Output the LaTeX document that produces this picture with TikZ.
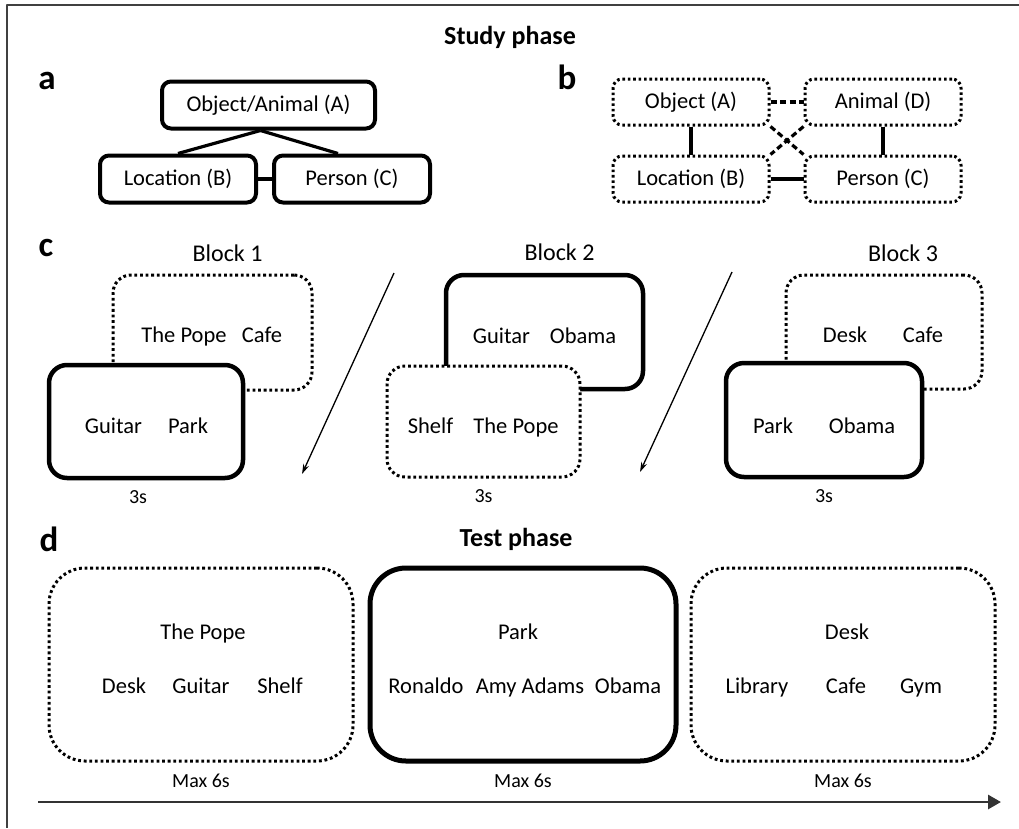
\documentclass[tikz,border=0pt]{standalone}
\usepackage{fontspec}
\setmainfont{Carlito}
\usetikzlibrary{arrows.meta,positioning}

\begin{document}
\begin{tikzpicture}[x=1pt,y=-1pt,>={Stealth[length=10pt,width=6pt]},
                    node distance=174pt,line join=round]
  \tikzstyle{every node}=[font=\fontsize{22.5}{27}\selectfont,inner sep=0pt]
  \tikzstyle{abox}=[draw,line width=4pt,rounded corners=9pt,minimum height=47pt]
  \tikzstyle{bbox}=[draw,line width=3pt,dash pattern=on 2.6pt off 2.8pt,
                    rounded corners=9pt,minimum width=156pt,minimum height=46pt]
  \tikzstyle{link}=[line width=3.2pt]
  \tikzstyle{cutlink}=[link,dash pattern=on 6pt off 3.5pt]
  \tikzstyle{cfull}=[draw,fill=white,line width=4.5pt,rounded corners=18pt]
  \tikzstyle{cdots}=[draw,fill=white,line width=3pt,dash pattern=on 2.8pt off 2.8pt,
                     rounded corners=18pt]
  \tikzstyle{dfull}=[draw,line width=5pt,rounded corners=36pt,minimum height=193pt]
  \tikzstyle{ddots}=[draw,line width=3pt,dash pattern=on 2.8pt off 2.8pt,
                     rounded corners=36pt,minimum width=304pt,minimum height=193pt]
  \tikzstyle{word}=[anchor=base]
  \tikzstyle{tag}=[font=\bfseries\fontsize{35}{42}\selectfont,anchor=base]
  \tikzstyle{title}=[font=\bfseries\fontsize{26}{31}\selectfont,anchor=base]
  \tikzstyle{small}=[font=\fontsize{20}{24}\selectfont]
  \tikzstyle{blocklabel}=[font=\fontsize{24}{29}\selectfont]

  \useasboundingbox (0,0) rectangle (1019,828);

  % frame
  \coordinate (f0) at (1019,5);
  \coordinate (f1) at (7,5);
  \coordinate (f2) at (7,828);
  \draw[line width=1.6pt,black!75] (f0) -- (f1) -- (f2);

  \node[title] (study) at (510,44) {Study phase};

  % a
  \node[tag] (la) at (47,89) {a};
  \node[abox,minimum width=213pt] (OA) at (268.5,105) {Object/Animal (A)};
  \node[abox,minimum width=156pt] (LB) at (178,179) {Location (B)};
  \node[abox,minimum width=156pt] (PC) [right of=LB] {Person (C)};

  \draw[link] ([xshift=-8pt]OA.south) -- (LB.north);
  \draw[link] ([xshift=-8pt]OA.south) -- ([xshift=-14pt]PC.north);
  \draw[link] (LB) -- (PC);

  % b
  \node[tag] (lb) at (567,89) {b};
  \node[bbox] (bA) at (691,102) {Object (A)};
  \node[bbox] (bD) [right of=bA,node distance=192pt] {Animal (D)};
  \node[bbox] (bB) [below of=bA,node distance=77pt] {Location (B)};
  \node[bbox] (bC) [right of=bB,node distance=192pt] {Person (C)};

  \draw[link] (bA) -- (bB);
  \draw[link] (bD) -- (bC);
  \draw[link] (bB) -- (bC);
  \draw[cutlink] (bA) -- (bD);
  \draw[cutlink] (bA.south east) -- (bC.north west);
  \draw[cutlink] (bD.south west) -- (bB.north east);

  % c
  \node[tag] (lc) at (46,256) {c};

  \node[cdots,minimum width=199pt,minimum height=115pt] (C1b) at (212.5,332.5) {};
  \node[cfull,minimum width=194pt,minimum height=113pt] (C1f) at (146,421.5) {};
  \node[blocklabel,above=12pt of C1b,xshift=15pt] (blk1) {Block 1};
  \node[word] (w1a) at (184,342) {The Pope};
  \node[word] (w1b) at (262,342) {Cafe};
  \node[word] (w1c) at (113.5,433) {Guitar};
  \node[word] (w1d) at (188,433) {Park};
  \node[small,below=10pt of C1f,xshift=-8pt] (t1) {3s};

  \node[cfull,minimum width=197pt,minimum height=114pt] (C2b) at (544.5,332) {};
  \node[cdots,minimum width=193pt,minimum height=111pt] (C2f) at (483.5,421.5) {};
  \node[blocklabel,above=12pt of C2b,xshift=15pt] (blk2) {Block 2};
  \node[word] (w2a) at (501.5,343) {Guitar};
  \node[word] (w2b) at (583,343) {Obama};
  \node[word] (w2c) at (430.5,433) {Shelf};
  \node[word] (w2d) at (516,433) {The Pope};
  \node[small,below=11pt of C2f] (t2) {3s};

  \node[cdots,minimum width=196pt,minimum height=114pt] (C3b) at (884,332) {};
  \node[cfull,minimum width=196pt,minimum height=114pt] (C3f) at (824,420) {};
  \node[blocklabel,above=12pt of C3b,xshift=19pt] (blk3) {Block 3};
  \node[word] (w3a) at (845,342) {Desk};
  \node[word] (w3b) at (923,342) {Cafe};
  \node[word] (w3c) at (773,433) {Park};
  \node[word] (w3d) at (862,433) {Obama};
  \node[small,below=10pt of C3f] (t3) {3s};

  \coordinate (s1) at (394,273);
  \coordinate (e1) at (302,474);
  \coordinate (s2) at (732,272);
  \coordinate (e2) at (640,472);
  \draw[->,line width=1.3pt] (s1) -- (e1);
  \draw[->,line width=1.3pt] (s2) -- (e2);

  % d
  \node[tag] (ld) at (49,551) {d};
  \node[title] (test) at (516,546) {Test phase};

  \node[ddots] (TA) at (201,664.5) {};
  \node[dfull,minimum width=306pt] (TB) at (523,664.5) {};
  \node[ddots] (TC) at (843,664.5) {};

  \node[word] (qa) at (203,639) {The Pope};
  \node[word] (ra1) at (124,693) {Desk};
  \node[word] (ra2) at (201,693) {Guitar};
  \node[word] (ra3) at (280,693) {Shelf};

  \node[word] (qb) at (518,639) {Park};
  \node[word] (rb1) at (426,693) {Ronaldo};
  \node[word] (rb2) at (530,693) {Amy Adams};
  \node[word] (rb3) at (628,693) {Obama};

  \node[word] (qc) at (847,639) {Desk};
  \node[word] (rc1) at (757,693) {Library};
  \node[word] (rc2) at (846,693) {Cafe};
  \node[word] (rc3) at (921,693) {Gym};

  \node[small,below=11pt of TA] (m1) {Max 6s};
  \node[small,below=10pt of TB] (m2) {Max 6s};
  \node[small,below=11pt of TC] (m3) {Max 6s};

  % time line
  \coordinate (t0) at (38,802);
  \coordinate (tE) at (1001,802);
  \draw[-{Triangle[length=13pt,width=14pt]},line width=2.8pt,black!80] (t0) -- (tE);
\end{tikzpicture}
\end{document}
